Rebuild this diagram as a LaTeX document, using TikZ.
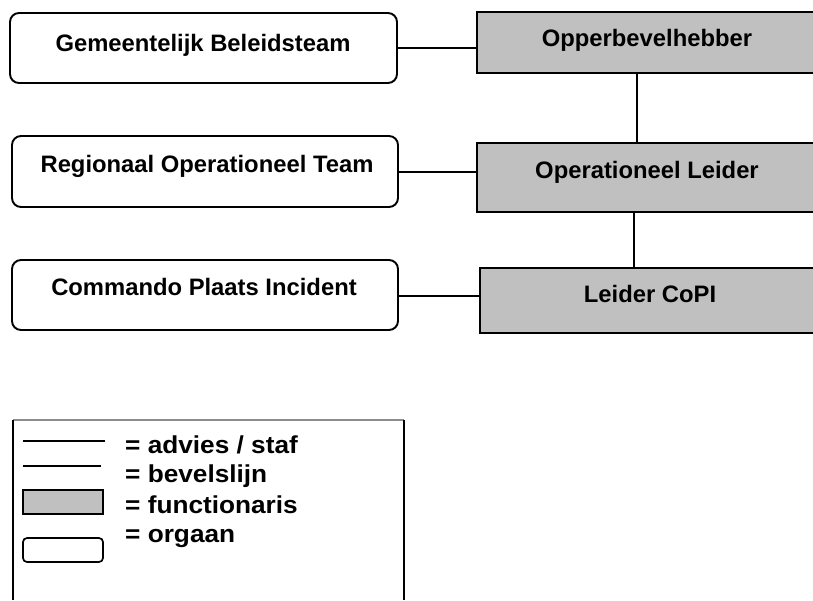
\documentclass[tikz,border=0pt]{standalone}
\usepackage{fontspec}
\usepackage{graphicx}
\setmainfont{Liberation Sans}
\definecolor{funcgray}{RGB}{192,192,192}
\definecolor{framegray}{RGB}{140,140,140}
\begin{document}
\begin{tikzpicture}[x=1pt,y=-1pt,
  organ/.style={draw, line width=1.9pt, rounded corners=9pt, fill=white, inner sep=0pt, outer sep=0pt, anchor=north west},
  func/.style={draw, line width=2.1pt, fill=funcgray, inner sep=0pt, outer sep=0pt, anchor=north west},
  lbl/.style={font=\fontsize{23.8}{26}\selectfont\bfseries, inner sep=0pt, anchor=base},
  leg/.style={font=\fontsize{24.5}{27}\selectfont\bfseries, inner sep=0pt, anchor=base west},
  conn/.style={line width=2.7pt},
]
\useasboundingbox (0,0) rectangle (813,600);
\clip (0,0) rectangle (813,600);

% organen
\node[organ, minimum width=387pt, minimum height=70pt] (gbt) at (10,13) {};
\node[organ, minimum width=386pt, minimum height=71pt] (rot) at (12,136) {};
\node[organ, minimum width=386pt, minimum height=70pt] (cpi) at (12,260) {};

% functionarissen
\node[func, minimum width=340pt, minimum height=61pt] (opp) at (477,12) {};
\node[func, minimum width=340pt, minimum height=69pt] (ol) at (477,143) {};
\node[func, minimum width=340pt, minimum height=65pt] (lc) at (480,268) {};

% texts
\node[lbl] (gbt-t) at (203,51) {Gemeentelijk Beleidsteam};
\node[lbl] (rot-t) at (207,172) {Regionaal Operationeel Team};
\node[lbl] (cpi-t) at (204,295) {Commando Plaats Incident};
\node[lbl] (opp-t) at (647,46) {Opperbevelhebber};
\node[lbl] (ol-t) at (647,178) {Operationeel Leider};
\node[lbl] (lc-t) at (650,302) {Leider CoPI};

% connectors: advies / staf
\draw[conn] (gbt.east) -- (gbt.east -| opp.west);
\draw[conn] ([yshift=-0.5pt]rot.east) -- ([yshift=-0.5pt]rot.east -| ol.west);
\draw[conn] ([yshift=-1pt]cpi.east) -- ([yshift=-1pt]cpi.east -| lc.west);
% bevelslijn
\draw[conn] ([xshift=-10pt]opp.south) -- ([xshift=-10pt]opp.south |- ol.north);
\draw[conn] ([xshift=-13pt]ol.south) -- ([xshift=-13pt]ol.south |- lc.north);

% legend
\draw[framegray, line width=1.2pt] (13,420) -- (404,420);
\draw[line width=1.6pt] (13,420) -- (13,600);
\draw[line width=1.8pt] (404,420) -- (404,600);

\coordinate (l1a) at (23,441);
\coordinate (l1b) at (105,441);
\coordinate (l2a) at (23,466);
\coordinate (l2b) at (101,466);
\draw[line width=2.6pt] (l1a) -- (l1b);
\draw[line width=2.6pt] (l2a) -- (l2b);
\node[func, line width=1.7pt, minimum width=80pt, minimum height=24pt] (lfunc) at (23,490) {};
\node[organ, line width=1.7pt, rounded corners=4pt, minimum width=80pt, minimum height=24pt] (lorg) at (23,538) {};

\node[leg] (t1) at (125,453) {\scalebox{1.07}[1]{= advies / staf}};
\node[leg] (t2) at (125,482) {\scalebox{1.07}[1]{= bevelslijn}};
\node[leg] (t3) at (125,513) {\scalebox{1.07}[1]{= functionaris}};
\node[leg] (t4) at (125,542) {\scalebox{1.07}[1]{= orgaan}};
\end{tikzpicture}
\end{document}
